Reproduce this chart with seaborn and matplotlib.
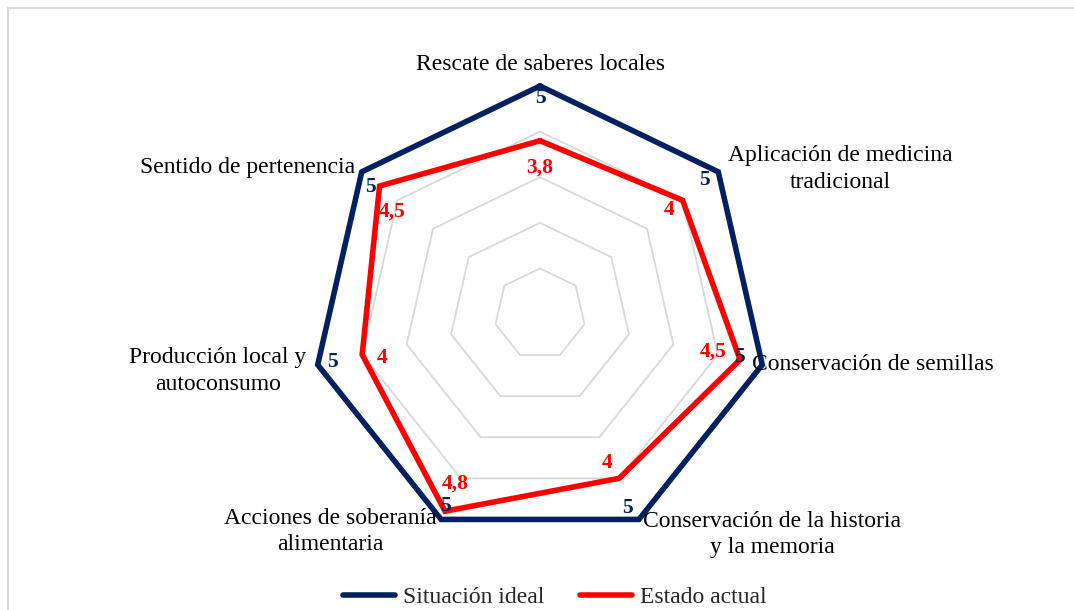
import numpy as np
import pandas as pd
import matplotlib
matplotlib.use("Agg")
import matplotlib.pyplot as plt
from matplotlib.lines import Line2D
import seaborn as sns

categories = ["Rescate de saberes locales",
              "Aplicación de medicina\ntradicional",
              "Conservación de semillas",
              "Conservación de la historia\ny la memoria",
              "Acciones de soberanía\nalimentaria",
              "Producción local y\nautoconsumo",
              "Sentido de pertenencia"]
ideal = [5, 5, 5, 5, 5, 5, 5]
actual = [3.8, 4, 4.5, 4, 4.8, 4, 4.5]
series_names = ["Situación ideal", "Estado actual"]
grid_levels = [1, 2, 3, 4, 5]

NAVY = "#002060"
RED = "#FF0000"
GRID = "#d9d9d9"

sns.set_theme(style="white")
plt.rcParams["font.family"] = ["Liberation Serif", "DejaVu Serif"]

n = len(categories)
theta = np.linspace(0, 2 * np.pi, n, endpoint=False)
theta_c = np.append(theta, theta[0])

rows = []
for name, vals in zip(series_names, [ideal, actual]):
    for i, t in enumerate(theta_c):
        rows.append({"theta": t, "value": vals[i % n], "series": name, "order": i})
df = pd.DataFrame(rows)

fig = plt.figure(figsize=(10.74, 6.10), dpi=100)
W, H = 1074, 610
cx, cy, R = 540, 314, 228
ax = fig.add_axes([(cx - R) / W, (H - cy - R) / H, 2 * R / W, 2 * R / H], projection="polar")
ax.set_theta_offset(np.pi / 2)
ax.set_theta_direction(-1)
ax.set_ylim(0, 5)
ax.grid(False)
ax.spines["polar"].set_visible(False)
ax.set_xticks([])
ax.set_yticks([])
ax.set_facecolor("none")

for lv in grid_levels:
    ax.plot(theta_c, [lv] * (n + 1), color=GRID, lw=1.3, zorder=1, clip_on=False)

sns.lineplot(data=df, x="theta", y="value", hue="series", units="series",
             estimator=None, sort=False, palette={series_names[0]: NAVY, series_names[1]: RED},
             hue_order=series_names, linewidth=4.0, ax=ax, legend=False, zorder=3)
for l in ax.lines:
    l.set_clip_on(False)
    l.set_solid_joinstyle("miter")
ax.set_xlabel("")
ax.set_ylabel("")

# category labels (offset in pixels from outer vertex)
cat_off = [(0, 22, "center"), (122, 3, "center"), (-10, 0, "left"), (133, -15, "center"),
           (-111, -12, "center"), (-100, -6, "center"), (-7, 4, "right")]
for t, lab, (dx, dy, ha) in zip(theta, categories, cat_off):
    ax.annotate(lab, xy=(t, 5), xytext=(dx, dy), textcoords="offset pixels",
                ha=ha, va="center", fontsize=17, color="black", multialignment="center",
                linespacing=1.35, annotation_clip=False, zorder=5)

def fmt(v):
    return (f"{v:g}").replace(".", ",")

ideal_off = [(0, -12), (-14, -8), (-23, 8), (-11, 11), (4, 13), (15, 3), (9, -15)]
actual_off = [(0, -27), (-14, -10), (-27, 8), (-12, 15), (10, 28), (20, -3), (13, -26)]
for vals, offs, col in [(ideal, ideal_off, NAVY), (actual, actual_off, RED)]:
    for t, v, (dx, dy) in zip(theta, vals, offs):
        ax.annotate(fmt(v), xy=(t, v), xytext=(dx, dy), textcoords="offset pixels",
                    ha="center", va="center", fontsize=15.5, fontweight="bold", color=col,
                    annotation_clip=False, zorder=6)

handles = [Line2D([0], [0], color=NAVY, lw=4.0), Line2D([0], [0], color=RED, lw=4.0)]
fig.legend(handles, series_names, loc="center", bbox_to_anchor=(555 / W, 1 - 597 / H),
           ncol=2, frameon=False, fontsize=17, handlelength=2.2, columnspacing=1.5,
           handletextpad=0.35)

# partial outer frame (top and left edges)
fig.add_artist(Line2D([8 / W, 1], [1 - 8 / H, 1 - 8 / H], transform=fig.transFigure, color=GRID, lw=1.6))
fig.add_artist(Line2D([8 / W, 8 / W], [0, 1 - 8 / H], transform=fig.transFigure, color=GRID, lw=1.6))

fig.savefig("out.png", dpi=100, facecolor="white")
